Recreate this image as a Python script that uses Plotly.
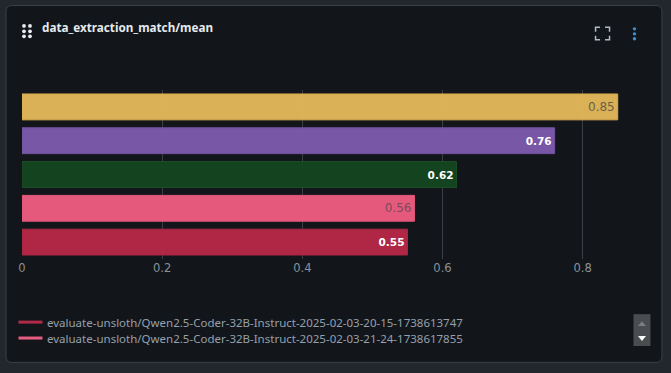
import plotly.graph_objects as go

W, H = 671, 373
L, R, T, B = 21.5, 630.5, 89.5, 259.5

title = "data_extraction_match/mean"
runs = ["run-a", "run-b", "run-c",
        "evaluate-unsloth/Qwen2.5-Coder-32B-Instruct-2025-02-03-21-24-1738617855",
        "evaluate-unsloth/Qwen2.5-Coder-32B-Instruct-2025-02-03-20-15-1738613747"]
values = [0.85, 0.76, 0.62, 0.56, 0.55]
fills = ["rgba(226,183,90,0.97)", "rgba(124,90,172,0.97)", "rgba(20,70,32,0.97)",
         "rgba(236,92,128,0.97)", "rgba(182,40,72,0.97)"]
edges = ["#D9AC4F", "#70509E", "#1A4F27", "#DF5578", "#A82743"]
label_colors = ["#6b6246", "#ffffff", "#ffffff", "#7d4a58", "#ffffff"]
label_sizes = [12, 10.5, 10.5, 12, 10.5]
labels = ["0.85", "<b>0.76</b>", "<b>0.62</b>", "0.56", "<b>0.55</b>"]
legend_names = [runs[4], runs[3]]
legend_colors = ["#B32A49", "#E85C7F"]
ticks = [0, 0.2, 0.4, 0.6, 0.8]
tick_text = ["0", "0.2", "0.4", "0.6", "0.8"]
XMAX = (R - L) / 702


def px(x):
    return (x - L) / (R - L)


def py(y):
    return (B - y) / (B - T)


def path(points, close=False):
    s = "M" + " L".join(f"{px(x):.5f},{py(y):.5f}" for x, y in points)
    return s + (" Z" if close else "")


shapes = []
c = 6
cx0, cy0, cx1, cy1 = 5.5, 4.5, 662.5, 363.5
card = (f"M{px(cx0+c):.5f},{py(cy0):.5f} L{px(cx1-c):.5f},{py(cy0):.5f} "
        f"Q{px(cx1):.5f},{py(cy0):.5f} {px(cx1):.5f},{py(cy0+c):.5f} "
        f"L{px(cx1):.5f},{py(cy1-c):.5f} Q{px(cx1):.5f},{py(cy1):.5f} {px(cx1-c):.5f},{py(cy1):.5f} "
        f"L{px(cx0+c):.5f},{py(cy1):.5f} Q{px(cx0):.5f},{py(cy1):.5f} {px(cx0):.5f},{py(cy1-c):.5f} "
        f"L{px(cx0):.5f},{py(cy0+c):.5f} Q{px(cx0):.5f},{py(cy0):.5f} {px(cx0+c):.5f},{py(cy0):.5f} Z")
shapes.append(dict(type="path", xref="paper", yref="paper", path=card, layer="below",
                   fillcolor="#12161B", line=dict(color="#3A4047", width=1)))


def dot(x, y, r, color):
    shapes.append(dict(type="circle", xref="paper", yref="paper", x0=px(x - r), x1=px(x + r),
                       y0=py(y + r), y1=py(y - r), fillcolor=color, line=dict(width=0)))


for dx in (23.5, 29.5):
    for dy in (25, 30.5, 35.5):
        dot(dx, dy, 1.9, "#E8ECF0")
for dy in (28, 33, 38):
    dot(635, dy, 1.7, "#3E8FD0")
for pts in ([(596, 31), (596, 26.5), (600.5, 26.5)], [(605.5, 26.5), (610, 26.5), (610, 31)],
            [(596, 35), (596, 39), (600.5, 39)], [(605.5, 39), (610, 39), (610, 35)]):
    shapes.append(dict(type="path", xref="paper", yref="paper", path=path(pts),
                       line=dict(color="#B4BAC2", width=1.5)))
shapes.append(dict(type="rect", xref="paper", yref="paper", x0=px(634), x1=px(651), y0=py(347), y1=py(315),
                   fillcolor="#4A4D50", line=dict(width=0)))
shapes.append(dict(type="path", xref="paper", yref="paper", path=path([(638.5, 327), (646.5, 327), (642.5, 322)], True),
                   fillcolor="#7C7F82", line=dict(width=0)))
shapes.append(dict(type="path", xref="paper", yref="paper", path=path([(638.5, 337), (646.5, 337), (642.5, 342)], True),
                   fillcolor="#FFFFFF", line=dict(width=0)))

annotations = [dict(text="<b>" + title + "</b>", xref="paper", yref="paper", x=px(40), y=py(26.5),
                    xanchor="left", yanchor="middle", showarrow=False,
                    font=dict(family="Noto Sans", size=11.7, color="#E6EAEE"))]
for i, (name, color) in enumerate(zip(legend_names, legend_colors)):
    y = 323 + 16 * i
    shapes.append(dict(type="line", xref="paper", yref="paper", x0=px(18), x1=px(42), y0=py(y), y1=py(y),
                       line=dict(color=color, width=3)))
    annotations.append(dict(text=name, xref="paper", yref="paper", x=px(44.5), y=py(y + 0.5),
                            xanchor="left", yanchor="middle", showarrow=False,
                            font=dict(family="Noto Sans", size=11.5, color="#95A0AC")))

fig = go.Figure()
fig.add_trace(go.Bar(
    y=runs, x=values, orientation="h", showlegend=False,
    marker=dict(color=fills, line=dict(color=edges, width=1)),
    text=labels, textposition="inside", insidetextanchor="end", textangle=0,
    constraintext="none",
    textfont=dict(family="DejaVu Sans", size=label_sizes, color=label_colors),
    hoverinfo="x+y",
))

fig.update_layout(
    width=W, height=H, autosize=False,
    margin=dict(l=L, r=W - R, t=T, b=H - B, pad=0),
    paper_bgcolor="#22272D", plot_bgcolor="rgba(0,0,0,0)",
    bargap=0.235, shapes=shapes, annotations=annotations, showlegend=False,
    xaxis=dict(range=[0, XMAX], tickvals=ticks, ticktext=tick_text, showgrid=True,
               gridcolor="#3A3F45", gridwidth=1, zeroline=False, showline=False,
               ticks="", ticklabelstandoff=0,
               tickfont=dict(family="DejaVu Sans", size=11.5, color="#8A9199")),
    yaxis=dict(type="category", categoryorder="array", categoryarray=runs[::-1],
               autorange=False, range=[-0.5, 4.5], showticklabels=False, showgrid=False,
               zeroline=True, zerolinecolor="#3A3F45", ticks=""),
    font=dict(family="Noto Sans"),
)
fig.write_html("out.html", config=dict(displayModeBar=False),
               post_script="document.body.style.margin='0';document.documentElement.style.background='#22272D';")
